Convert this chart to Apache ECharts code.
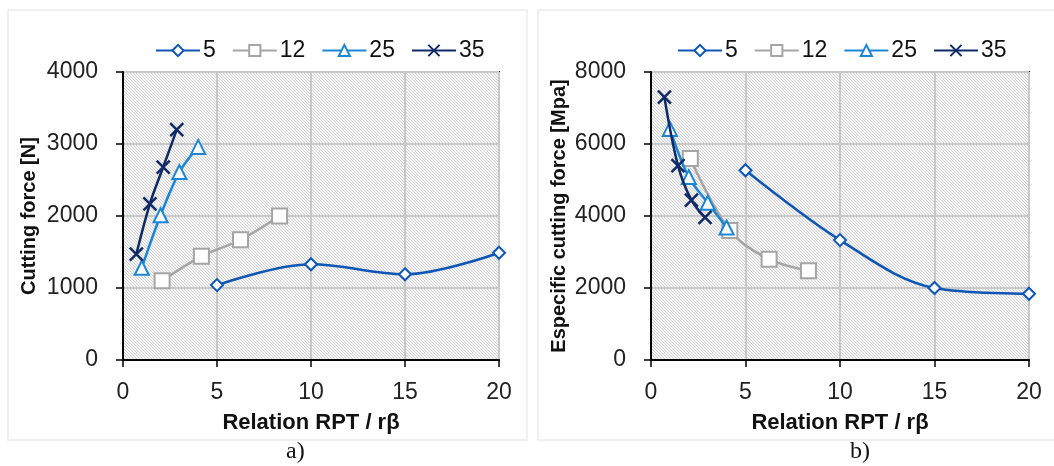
<!DOCTYPE html>
<html><head><meta charset="utf-8">
<script src="https://cdn.jsdelivr.net/npm/echarts@6/dist/echarts.min.js"></script>
<style>html,body{margin:0;padding:0;background:#fff}#c{width:1054px;height:466px}</style>
</head><body><div id="c"></div>
<script>
// ---- data ----
const seriesNames = ['5', '12', '25', '35'];
const x5  = [5, 10, 15, 20];
const x12 = [2.08, 4.17, 6.25, 8.33];
const x25 = [1, 2, 3, 4];
const x35 = [0.71, 1.43, 2.14, 2.86];
// a) Cutting force [N]
const force5  = [1040, 1330, 1190, 1490];
const force12 = [1100, 1440, 1670, 2000];
const force25 = [1280, 2010, 2610, 2960];
const force35 = [1470, 2170, 2680, 3200];
// b) Especific cutting force [Mpa]
const kc5  = [5270, 3330, 2000, 1840];
const kc12 = [5600, 3600, 2800, 2480];
const kc25 = [6420, 5080, 4370, 3680];
const kc35 = [7300, 5400, 4440, 3960];

const colors = ['#0D56B5', '#A5A5A5', '#1C86D6', '#0F2A66'];
const symbols = ['emptyDiamond', 'emptyRect', 'emptyTriangle', 'path://M0,0L10,10M10,0L0,10'];
const symbolSizes = [12, 15, 14, 13];

// hatch pattern
const pc = document.createElement('canvas');
pc.width = 3; pc.height = 3;
const pctx = pc.getContext('2d');
pctx.fillStyle = '#f5f5f5'; pctx.fillRect(0, 0, 3, 3);
pctx.fillStyle = '#d2d2d2';
for (let i = 0; i < 3; i++) pctx.fillRect(i, i, 1, 1);
const hatch = { image: pc, repeat: 'repeat' };

const zip = (xs, ys) => xs.map((x, i) => [x, ys[i]]);
const xsAll = [x5, x12, x25, x35];
const leftYs = [force5, force12, force25, force35];
const rightYs = [kc5, kc12, kc25, kc35];

const font = 'Liberation Sans';
function mkX(gi) {
  return {
    type: 'value', gridIndex: gi, min: 0, max: 20, interval: 5,
    name: 'Relation RPT / rβ', nameLocation: 'middle', nameGap: 52,
    nameTextStyle: { fontFamily: font, fontWeight: 'bold', fontSize: 22, color: '#111' },
    axisLine: { show: true, onZero: false, lineStyle: { color: '#000', width: 2 } },
    axisTick: { show: true, length: 7, lineStyle: { color: '#000', width: 1.5 } },
    axisLabel: { fontFamily: font, fontSize: 23, color: '#222', margin: 21, formatter: v => String(v) },
    splitLine: { show: true, lineStyle: { color: '#C8C8C8', width: 2 } }
  };
}
function mkY(gi, max, interval, name, gap) {
  return {
    type: 'value', gridIndex: gi, min: 0, max: max, interval: interval,
    name: name, nameLocation: 'middle', nameGap: gap,
    nameTextStyle: { fontFamily: font, fontWeight: 'bold', fontSize: 20, color: '#111' },
    axisLine: { show: true, onZero: false, lineStyle: { color: '#000', width: 2 } },
    axisTick: { show: true, length: 7, lineStyle: { color: '#000', width: 1.5 } },
    axisLabel: { fontFamily: font, fontSize: 23, color: '#222', margin: 25, formatter: v => String(v) },
    splitLine: { show: true, lineStyle: { color: '#C8C8C8', width: 2 } }
  };
}
function mkSeries(gi, ysList) {
  return seriesNames.map((n, i) => ({
    type: 'line', name: n, xAxisIndex: gi, yAxisIndex: gi,
    data: zip(xsAll[i], ysList[i]),
    smooth: 0.35,
    symbol: symbols[i], symbolSize: symbolSizes[i],
    showAllSymbol: true,
    lineStyle: { color: colors[i], width: 2.5 },
    itemStyle: i === 3
      ? { color: colors[i], borderColor: colors[i], borderWidth: 2.5 }
      : { color: colors[i], borderWidth: 2.5 },
    z: 2 + i,
    animation: false
  }));
}
function mkLegend(left) {
  return {
    left: left, top: 34, itemWidth: 44, itemHeight: 14, itemGap: 16,
    data: seriesNames,
    textStyle: { fontFamily: font, fontSize: 23, color: '#111', padding: [0, 0, 0, -2] }
  };
}

const chart = echarts.init(document.getElementById('c'), null, { renderer: 'canvas' });
chart.setOption({
  backgroundColor: '#fff',
  animation: false,
  grid: [
    { left: 123, top: 72, width: 376, height: 288, show: true, backgroundColor: hatch, borderColor: '#000', borderWidth: 2 },
    { left: 651, top: 72, width: 378, height: 288, show: true, backgroundColor: hatch, borderColor: '#000', borderWidth: 2 }
  ],
  legend: [mkLegend(150), mkLegend(672)],
  xAxis: [mkX(0), mkX(1)],
  yAxis: [mkY(0, 4000, 1000, 'Cutting force [N]', 84), mkY(1, 8000, 2000, 'Especific cutting force [Mpa]', 82)],
  series: mkSeries(0, leftYs).concat(mkSeries(1, rightYs)),
  graphic: [
    { type: 'rect', shape: { x: 8, y: 10, width: 519, height: 430 }, style: { fill: null, stroke: '#f0f0f0', lineWidth: 2 }, silent: true, z: -10 },
    { type: 'rect', shape: { x: 538, y: 10, width: 520, height: 430 }, style: { fill: null, stroke: '#f0f0f0', lineWidth: 2 }, silent: true, z: -10 },
    { type: 'text', left: 286, top: 440, style: { text: 'a)', font: '24px "Liberation Serif"', fill: '#111' } },
    { type: 'text', left: 850, top: 440, style: { text: 'b)', font: '24px "Liberation Serif"', fill: '#111' } }
  ]
});
</script>
</body></html>
